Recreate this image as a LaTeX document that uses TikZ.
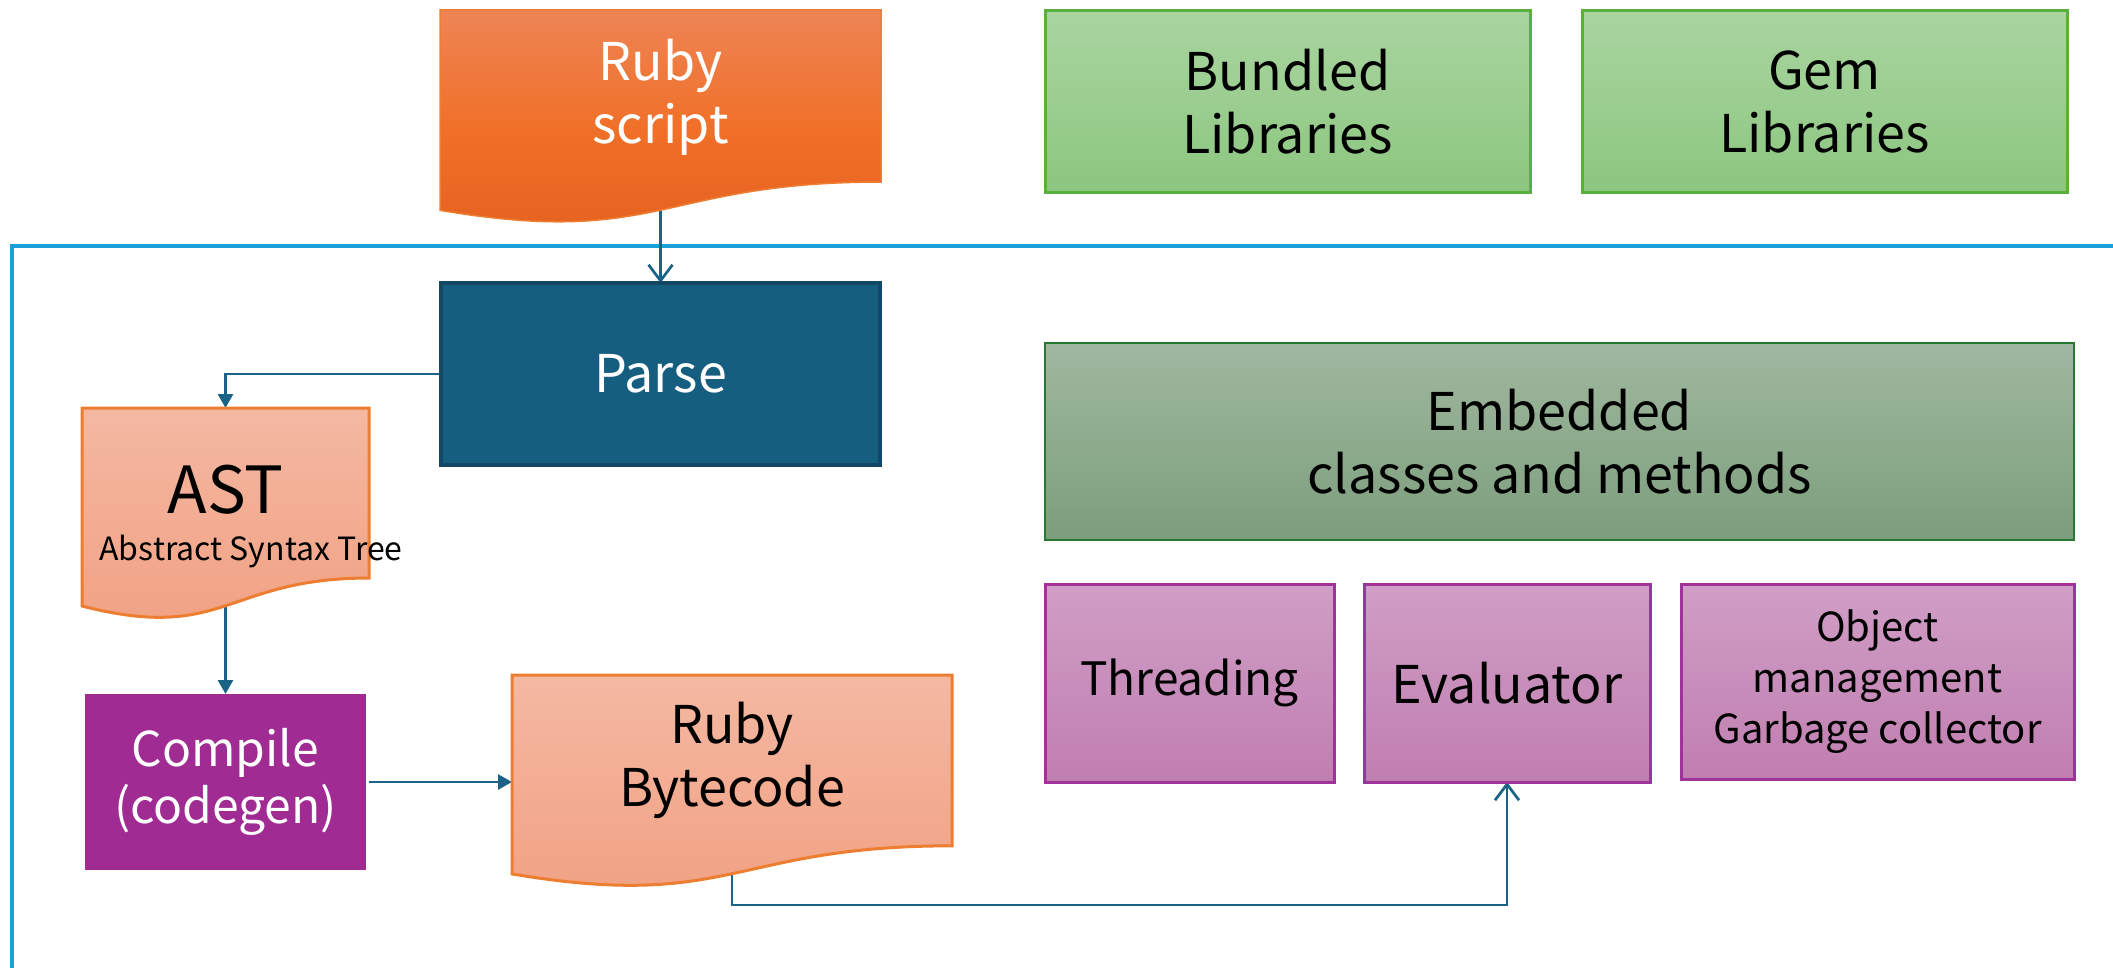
\documentclass[tikz,border=0pt]{standalone}
\usepackage{fontspec}
\setmainfont{Noto Sans CJK JP}
\usetikzlibrary{arrows.meta,backgrounds}
\definecolor{rsTop}{HTML}{EE8455}
\definecolor{rsMid}{HTML}{F07028}
\definecolor{rsBot}{HTML}{E4601E}
\definecolor{orBorder}{HTML}{ED7D31}
\definecolor{peachTop}{HTML}{F4B8A2}
\definecolor{peachBot}{HTML}{F1A082}
\definecolor{parseFill}{HTML}{165E80}
\definecolor{parseBorder}{HTML}{124864}
\definecolor{compFill}{HTML}{A02B93}
\definecolor{libTop}{HTML}{A9D5A0}
\definecolor{libBot}{HTML}{8CC67F}
\definecolor{libBorder}{HTML}{5AB03C}
\definecolor{embTop}{HTML}{A0B8A0}
\definecolor{embBot}{HTML}{7C9E7C}
\definecolor{embBorder}{HTML}{287832}
\definecolor{purTop}{HTML}{D09EC6}
\definecolor{purBot}{HTML}{C07EB0}
\definecolor{purBorder}{HTML}{A0329B}
\definecolor{frameBlue}{HTML}{1BA1D9}
\definecolor{connBlue}{HTML}{1A6286}
\newcommand\setfs[2]{\fontsize{#1}{#2}\selectfont}
% document shape: #1 style, #2 x1, #3 x2, #4 top y, #5 height
\newcommand\docshape[5]{%
  \path[#1] (#2,#4) -- (#3,#4) -- (#3,{#4+0.802*#5})
    .. controls ({(#2+#3)/2},{#4+0.802*#5}) and ({(#2+#3)/2},{#4+1.1075*#5}) ..
    (#2,{#4+0.934*#5}) -- cycle;}
\begin{document}
\begin{tikzpicture}[x=1pt,y=-1pt,
  every node/.style={inner sep=0pt, outer sep=0pt, align=center},
  libbox/.style={rectangle, draw=libBorder, line width=3pt, top color=libTop, bottom color=libBot,
    minimum width=485pt, minimum height=182pt, font=\setfs{52}{63}},
  embbox/.style={rectangle, draw=embBorder, line width=2.5pt, top color=embTop, bottom color=embBot,
    minimum width=1029pt, minimum height=197pt, font=\setfs{52}{63}},
  purbox/.style={rectangle, draw=purBorder, line width=3pt, top color=purTop, bottom color=purBot},
  parsebox/.style={rectangle, draw=parseBorder, line width=4pt, fill=parseFill, text=white,
    minimum width=439pt, minimum height=182pt, font=\setfs{52}{63}},
  compbox/.style={rectangle, fill=compFill, text=white,
    minimum width=281pt, minimum height=176pt, font=\setfs{48}{57}},
  rsdoc/.style={draw=orBorder, line width=1.5pt, top color=rsTop, bottom color=rsBot, middle color=rsMid},
  peachdoc/.style={draw=orBorder, line width=3pt, top color=peachTop, bottom color=peachBot},
  frameline/.style={draw=frameBlue, line width=4pt},
  conn/.style={draw=connBlue, line width=2.7pt},
  filltip/.style={-{Triangle[length=14pt,width=15pt]}},
  barbtip/.style={-{Straight Barb[length=16pt,width=24pt]}}
]
\useasboundingbox (0,0) rectangle (2113,968);
\clip (0,0) rectangle (2113,968);

% document shapes
\docshape{rsdoc}{440}{881}{10}{214.5}
\docshape{peachdoc}{82}{369}{408}{212}
\docshape{peachdoc}{512}{952}{675}{213}

% document-shape nodes (text)
\node[minimum width=441pt, minimum height=172pt, text=white, font=\setfs{52}{63}] (rs) at (660.5,97) {Ruby\\script};
\node[minimum width=287pt, minimum height=170pt] (ast) at (225.5,493) {};
\node[anchor=base, font=\setfs{65}{70}] (asttitle) at (225.5,513) {AST};
\node[anchor=base, font=\setfs{32}{36}] (astsub) at (251,560) {Abstract Syntax Tree};
\node[minimum width=440pt, minimum height=171pt, font=\setfs{52}{63}] (bc) at (732,760.5) {Ruby\\Bytecode};

% rectangles
\node[libbox] (bundled) at (1287.5,102) {Bundled\\Libraries};
\node[libbox] (gem) at (1824.5,102) {Gem\\Libraries};
\node[parsebox] (parse) at (660.5,374) {Parse};
\node[embbox] (emb) at (1559.5,441.5) {Embedded\\classes and methods};
\node[compbox] (compile) at (225.5,782) {Compile\\(codegen)};
\node[purbox, minimum width=289pt, minimum height=198pt, font=\setfs{46}{55}] (thr) at (1189.5,683) {Threading};
\node[purbox, minimum width=286pt, minimum height=198pt, font=\setfs{52}{60}] (ev) at (1507,683) {Evaluator};
\node[purbox, minimum width=393pt, minimum height=195pt, font=\setfs{40}{51}] (obj) at (1877.5,681.5) {Object\\management\\Garbage collector};

\begin{scope}[on background layer]
  \fill[white] (0,0) rectangle (2113,968);
  \coordinate (frTR) at (2140,246);
  \coordinate (frBL) at (12,1000);
  \draw[frameline] (frTR) -- (frTR -| frBL) -- (frBL);
  \draw[conn, barbtip] (rs.center) -- (parse.north);
  \draw[conn, filltip] (parse.west) -| (ast.north);
  \draw[conn, filltip] (ast.center) -- (compile.north);
  \draw[conn, filltip, shorten <=3pt] (compile.east) -- (compile.east -| bc.west);
  \draw[conn, barbtip] (bc.center) |- ([yshift=-123pt]ev.south) -- (ev.south);
\end{scope}
\end{tikzpicture}
\end{document}
